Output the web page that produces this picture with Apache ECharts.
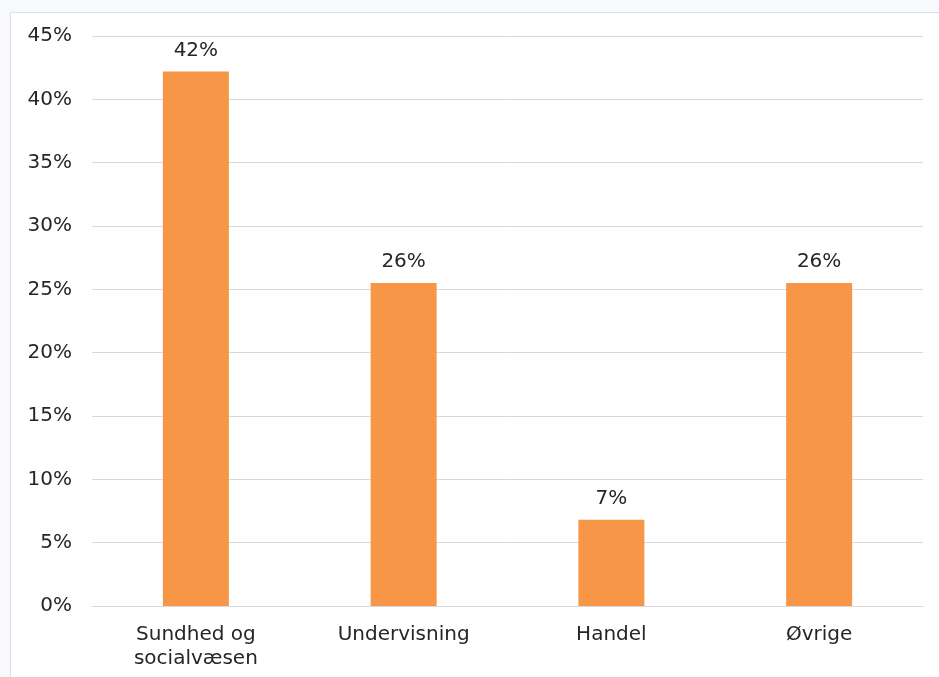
<!DOCTYPE html>
<html>
<head>
<meta charset="utf-8">
<script src="https://cdn.jsdelivr.net/npm/echarts@6/dist/echarts.min.js"></script>
<style>
  html, body { margin: 0; padding: 0; background: #f8f9fd; }
  #wrap {
    position: absolute; left: 10px; top: 12px;
    width: 928px; height: 664px;
    border-top: 1px solid #dedfe3; border-left: 1px solid #dedfe3;
    background: #fff;
  }
  #chart { width: 928px; height: 664px; }
</style>
</head>
<body>
<div id="wrap"><div id="chart"></div></div>
<script>
// kategorier og andele (pct)
let categories = ['Sundhed og\nsocialvæsen', 'Undervisning', 'Handel', 'Øvrige'];
let shares = [42.2, 25.5, 6.8, 25.5];
let yTicks = [0, 5, 10, 15, 20, 25, 30, 35, 40, 45];

let font = 'Verdana, "DejaVu Sans", sans-serif';

let myChart = echarts.init(document.getElementById('chart'));
myChart.setOption({
  animation: false,
  grid: { left: 81, right: 16, top: 23, bottom: 71 },
  xAxis: {
    type: 'category',
    data: categories,
    axisLine: { lineStyle: { color: '#d9d9d9', width: 1 } },
    axisTick: { show: false },
    axisLabel: {
      color: '#262626', fontSize: 20, fontFamily: font,
      margin: 17, lineHeight: 24, interval: 0
    }
  },
  yAxis: {
    type: 'value',
    min: yTicks[0],
    max: yTicks[yTicks.length - 1],
    interval: 5,
    axisLine: { show: false },
    axisTick: { show: false },
    splitLine: { lineStyle: { color: '#d9d9d9', width: 1 } },
    axisLabel: {
      color: '#262626', fontSize: 20, fontFamily: font, margin: 20,
      formatter: '{value}%'
    }
  },
  series: [{
    type: 'bar',
    data: shares,
    barWidth: 66,
    itemStyle: { color: '#f79646' },
    label: {
      show: true, position: 'top', distance: 11,
      color: '#262626', fontSize: 20, fontFamily: font,
      formatter: function (p) { return Math.round(p.value) + '%'; }
    }
  }]
});
</script>
</body>
</html>
